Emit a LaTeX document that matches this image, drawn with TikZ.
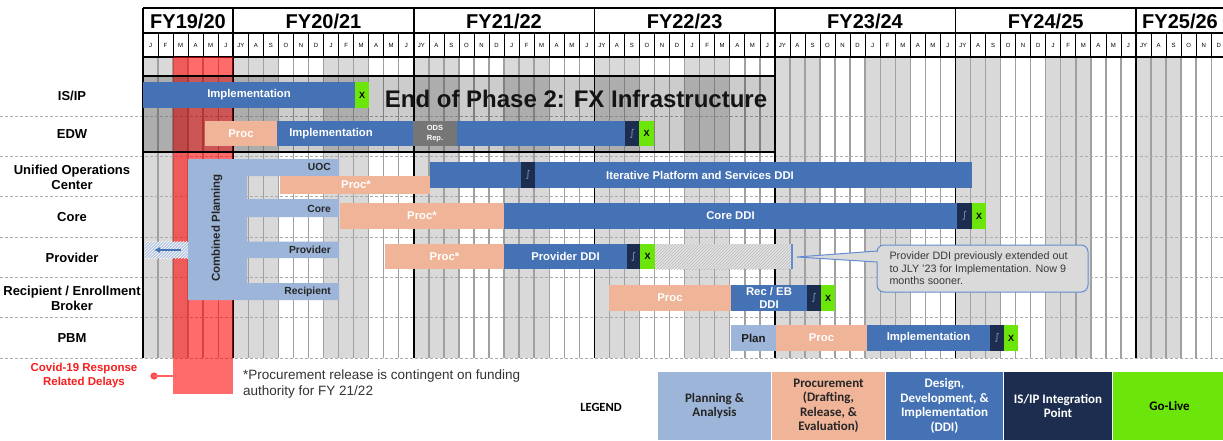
\documentclass[tikz,border=0pt]{standalone}
\usepackage{fontspec}
\setmainfont{Liberation Sans}
\newfontfamily\legendfont{Carlito}
\newfontfamily\symfont{DejaVu Sans}
\usetikzlibrary{patterns,arrows.meta}
\definecolor{ddi}{RGB}{68,114,180}
\definecolor{proc}{RGB}{240,180,152}
\definecolor{plan}{RGB}{157,181,216}
\definecolor{navy}{RGB}{28,45,80}
\definecolor{golive}{RGB}{108,230,10}
\definecolor{qshade}{RGB}{217,217,217}
\definecolor{gridc}{RGB}{160,160,160}
\definecolor{odsg}{RGB}{118,118,118}
\definecolor{covidtxt}{RGB}{250,30,30}
\definecolor{calfill}{RGB}{218,218,218}
\definecolor{calline}{RGB}{100,140,210}
\definecolor{integc}{RGB}{140,158,195}
\newcommand\gbar[6]{\fill[#6] (#2,#4) rectangle (#3,#5); \coordinate (#1) at ({(#2+#3)/2},{(#4+#5)/2});}
\def\mw{15.045}
\def\xo{143}
\begin{document}
\begin{tikzpicture}[x=1pt,y=-1pt,
  lbl/.style={font=\bfseries\fontsize{13}{15}\selectfont, align=center, text=black},
  fylbl/.style={font=\bfseries\fontsize{20}{22}\selectfont, text=black},
  mlbl/.style={font=\fontsize{6}{6.5}\selectfont, text=black, inner sep=0},
  bartxt/.style={font=\bfseries\fontsize{11.3}{13}\selectfont, text=white, align=center, inner sep=0},
  armtxt/.style={font=\bfseries\fontsize{10.3}{12}\selectfont, text=black!85, anchor=east, inner sep=0},
  xtxt/.style={font=\bfseries\fontsize{9}{10}\selectfont, text=black, inner sep=0},
  itxt/.style={font=\symfont\fontsize{9.5}{10}\selectfont, text=integc, inner sep=0},
  rowsep/.style={gray!65, line width=0.9, dash pattern=on 3pt off 2pt},
  legbox/.style={font=\legendfont\bfseries\fontsize{13}{14.5}\selectfont, align=center, draw=white, line width=1, minimum height=69, anchor=north west, inner sep=2}]
\useasboundingbox (0,0) rectangle (1223,440);
\fill[white] (0,0) rectangle (1223,440);
% quarter shading
\foreach \m in {0,...,71} {
  \pgfmathtruncatemacro\q{mod(\m,6)}
  \ifnum\q<3 \fill[qshade] ({\xo+\m*\mw},57) rectangle ({\xo+(\m+1)*\mw},358); \fi
}
% month grid lines
\foreach \m in {1,...,71} \draw[gridc, line width=1.4] ({\xo+\m*\mw},57) -- ({\xo+\m*\mw},358);
% row separators
\foreach \yy in {116,156,196,237,277,317,358} \draw[rowsep] (0,\yy) -- (1223,\yy);
% header
\fill[white] (\xo,8) rectangle (1223,57);
\foreach \fy in {0,...,5} \foreach \nm [count=\c from 0] in {J,F,M,A,M,J,JY,A,S,O,N,D} {
  \pgfmathsetmacro\xm{\xo+(12*\fy+\c+0.5)*\mw}
  \node[mlbl] (m\fy-\c) at (\xm,45) {\nm};
  \draw[black, line width=0.7] ({\xo+(12*\fy+\c)*\mw},33) -- ({\xo+(12*\fy+\c)*\mw},57);
}
\draw[black, line width=1.8] (\xo,8) -- (1223,8);
\draw[black, line width=1.2] (\xo,33) -- (1223,33);
\draw[black, line width=1.4] (\xo,57) -- (1223,57);
\foreach \m in {0,6,18,30,42,54,66} \draw[black, line width=1.6] ({\xo+\m*\mw},8) -- ({\xo+\m*\mw},358);
\node[fylbl] (fy1) at (188,21) {FY19/20};
\node[fylbl] (fy2) at (323.5,21) {FY20/21};
\node[fylbl] (fy3) at (504,21) {FY21/22};
\node[fylbl] (fy4) at (684.6,21) {FY22/23};
\node[fylbl] (fy5) at (865,21) {FY23/24};
\node[fylbl] (fy6) at (1045.7,21) {FY24/25};
\node[fylbl] (fy7) at (1180,21) {FY25/26};
% covid strip
\fill[red, fill opacity=0.58] (173.3,57) rectangle (233.3,394);
\fill[red!70!white] (154,376) circle (3.6);
\coordinate (cdot) at (154,376);
\coordinate (cbox) at (173.3,376);
\draw[red!62!white, line width=1.6] (cdot) -- (cbox);
\node[font=\bfseries\fontsize{11.5}{14}\selectfont, text=covidtxt, align=center] (covid) at (84,376) {Covid-19 Response\\Related Delays};
% phase 2 box
\fill[black, fill opacity=0.2] (\xo,76) rectangle (775,152);
\draw[black, line width=2] (\xo,76) rectangle (775,152);
\node[font=\bfseries\fontsize{24}{28}\selectfont, text=black!92] (phase) at (576,99) {End of Phase 2: FX Infrastructure};
% row labels
\node[lbl] (l1) at (72,96) {IS/IP};
\node[lbl] (l2) at (72,134) {EDW};
\node[lbl] (l3) at (72,177.5) {Unified Operations\\Center};
\node[lbl] (l4) at (72,217.5) {Core};
\node[lbl] (l5) at (72,257.5) {Provider};
\node[lbl] (l6) at (72,298.5) {Recipient / Enrollment\\Broker};
\node[lbl] (l7) at (72,338) {PBM};
% IS/IP
\gbar{isipA}{143}{355}{82}{108}{ddi}
\gbar{isipX}{355}{369}{82}{108}{golive}
\node[bartxt] (t1) at (isipA) {Implementation};
\node[xtxt] (t1x) at (isipX) {X};
% EDW
\gbar{edwP}{205}{277}{121}{146}{proc}
\gbar{edwI}{277}{413}{121}{146}{ddi}
\gbar{edwO}{413}{457}{121}{146}{odsg}
\gbar{edwI2}{457}{625}{121}{146}{ddi}
\gbar{edwN}{625}{639}{121}{146}{navy}
\gbar{edwX}{639}{654}{121}{146}{golive}
\node[bartxt] (t2p) at (edwP) {Proc};
\node[bartxt] (t2i) at (331,133.5) {Implementation};
\node[bartxt, font=\bfseries\fontsize{7.5}{9.5}\selectfont] (t2o) at (edwO) {ODS\\Rep.};
\node[itxt] (t2n) at (edwN) {∫};
\node[xtxt] (t2x) at (edwX) {X};
% combined planning
\fill[plan] (188,159) -- (339,159) -- (339,176) -- (247,176) -- (247,199) -- (339,199) -- (339,217) -- (247,217) -- (247,241.5) -- (339,241.5) -- (339,258) -- (247,258) -- (247,283) -- (339,283) -- (339,300) -- (188,300) -- cycle;
\node[font=\bfseries\fontsize{11.5}{13}\selectfont, text=black!85, rotate=90] (cp) at (217,228) {Combined Planning};
\node[armtxt] (a1) at (331,167) {UOC};
\node[armtxt] (a2) at (331,209) {Core};
\node[armtxt] (a3) at (331,250) {Provider};
\node[armtxt] (a4) at (331,292) {Recipient};
\fill[plan!75] (145,241.5) rectangle (188,258);
\fill[pattern=north east lines, pattern color=white] (145,241.5) rectangle (188,258);
\coordinate (arrS) at (181,250);
\coordinate (arrE) at (154,250);
\draw[ddi, line width=2, -{Latex[length=6pt,width=6pt]}] (arrS) -- (arrE);
% UOC
\gbar{uocP}{280}{430}{176}{194}{proc}
\gbar{uocI}{430}{972}{162}{188}{ddi}
\gbar{uocN}{521}{535}{162}{188}{navy}
\node[bartxt] (t3p) at (356,185) {Proc*};
\node[bartxt] (t3i) at (700,175) {Iterative Platform and Services DDI};
\node[itxt] (t3n) at (uocN) {∫};
% Core
\gbar{coreP}{340}{504}{203}{229}{proc}
\gbar{coreI}{504}{957}{203}{229}{ddi}
\gbar{coreN}{957}{972}{203}{229}{navy}
\gbar{coreX}{972}{986}{203}{229}{golive}
\node[bartxt] (t4p) at (coreP) {Proc*};
\node[bartxt] (t4i) at (coreI) {Core DDI};
\node[itxt] (t4n) at (coreN) {∫};
\node[xtxt] (t4x) at (coreX) {X};
% Provider
\gbar{provP}{385}{504}{244}{269}{proc}
\gbar{provI}{504}{627}{244}{269}{ddi}
\gbar{provN}{627}{640}{244}{269}{navy}
\gbar{provX}{640}{655}{244}{269}{golive}
\gbar{provH}{655}{792}{244}{269}{gray!22}
\fill[pattern=north east lines, pattern color=gray!55] (655,244) rectangle (792,269);
\draw[calline, line width=1.3] (792,244) -- (792,269);
\node[bartxt] (t5p) at (provP) {Proc*};
\node[bartxt] (t5i) at (provI) {Provider DDI};
\node[itxt] (t5n) at (provN) {∫};
\node[xtxt] (t5x) at (provX) {X};
% callout
\coordinate (tip) at (797,257);
\draw[fill=calfill, draw=calline, line width=1] [rounded corners=7] (877,262) -- (877,292) -- (1088,292) -- (1088,245) -- (877,245) [sharp corners] -- (877,251) -- (tip) -- cycle;
\node[font=\fontsize{10.75}{12.6}\selectfont, text=black!78, align=left, anchor=west] (callt) at (886,268.5) {Provider DDI previously extended out\\to JLY '23 for Implementation. Now 9\\months sooner.};
% Recipient
\gbar{recP}{609}{731}{285}{311}{proc}
\gbar{recI}{731}{807}{285}{311}{ddi}
\gbar{recN}{807}{821}{285}{311}{navy}
\gbar{recX}{821}{835}{285}{311}{golive}
\node[bartxt] (t6p) at (recP) {Proc};
\node[bartxt] (t6i) at (recI) {Rec / EB\\DDI};
\node[itxt] (t6n) at (recN) {∫};
\node[xtxt] (t6x) at (recX) {X};
% PBM
\gbar{pbmL}{731}{776}{325}{351}{plan}
\gbar{pbmP}{776}{867}{325}{351}{proc}
\gbar{pbmI}{867}{990}{325}{351}{ddi}
\gbar{pbmN}{990}{1004}{325}{351}{navy}
\gbar{pbmX}{1004}{1018}{325}{351}{golive}
\node[bartxt, text=black!88, font=\bfseries\fontsize{11.5}{13}\selectfont] (t7l) at (pbmL) {Plan};
\node[bartxt] (t7p) at (pbmP) {Proc};
\node[bartxt] (t7i) at (pbmI) {Implementation};
\node[itxt] (t7n) at (pbmN) {∫};
\node[xtxt] (t7x) at (pbmX) {X};
% footnote
\node[font=\fontsize{13.5}{15.5}\selectfont, text=black!80, align=left, anchor=north west, inner sep=0] (foot) at (243,370) {*Procurement release is contingent on funding\\authority for FY 21/22};
% legend
\node[font=\legendfont\bfseries\fontsize{12.5}{14}\selectfont, text=black] (leg) at (601,407) {LEGEND};
\node[legbox, fill=plan, text=black!85, minimum width=114] (lg1) at (657,371) {Planning \&\\Analysis};
\node[legbox, fill=proc, text=black!85, minimum width=114] (lg2) at (771,371) {Procurement\\(Drafting,\\Release, \&\\Evaluation)};
\node[legbox, fill=ddi, text=white, minimum width=118] (lg3) at (885,371) {Design,\\Development, \&\\Implementation\\(DDI)};
\node[legbox, fill=navy, text=white, minimum width=109] (lg4) at (1003,371) {IS/IP Integration\\Point};
\node[legbox, fill=golive, text=black, minimum width=114] (lg5) at (1112,371) {Go-Live};
\end{tikzpicture}
\end{document}
